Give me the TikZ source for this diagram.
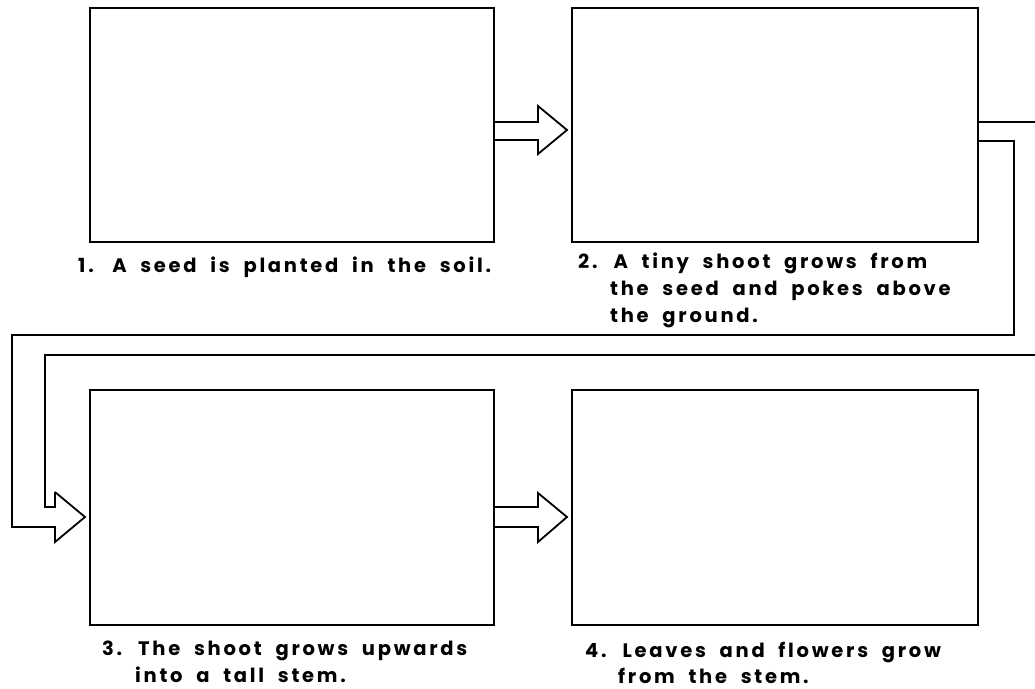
\documentclass[tikz,border=0pt]{standalone}
\usepackage{fontspec}
\setmainfont{Poppins}[LetterSpace=14,WordSpace=2]
\begin{document}
\begin{tikzpicture}[x=1pt,y=-1pt,
  box/.style={draw, line width=2pt, minimum width=#1, minimum height=234pt, inner sep=0pt},
  blockarrow/.style={draw, line width=1.8pt, line join=miter, fill=white},
  lbl/.style={anchor=base west, inner sep=0pt, font=\fontsize{19.5}{27}\selectfont\bfseries}]
\clip (0,0) rectangle (1035,688);
\useasboundingbox (0,0) rectangle (1035,688);
% boxes
\node[box=404pt] (b1) at (292,125) {};
\node[box=406pt] (b2) at (775,125) {};
\node[box=404pt, minimum height=235pt] (b3) at (292,507.5) {};
\node[box=406pt, minimum height=235pt] (b4) at (775,507.5) {};
% arrow 1 -> 2
\draw[blockarrow] (b1.east |- 0,122) -- (538,122) -- (538,106) -- (567,130) -- (538,154) -- (538,140) -- (b1.east |- 0,140);
% arrow 3 -> 4
\draw[blockarrow] (b3.east |- 0,507) -- (538,507) -- (538,493) -- (567,517) -- (538,542) -- (538,527) -- (b3.east |- 0,527);
% long connector 2 -> 3
\draw[line width=1.8pt, line join=miter] (b2.east |- 0,122) -- (1050,122);
\draw[line width=1.8pt, line join=miter] (1050,355) -- (45,355) -- (45,507) -- (55,507) -- (55,492);
\draw[line width=1.8pt, line join=miter] (55,492) -- (85,517) -- (55,542) -- (55,527) -- (12,527) -- (12,335) -- (1014,335) -- (1014,141) -- (b2.east |- 0,141);
% labels
\node[lbl] (t1) at (78,272) {1.\hspace{0.95em}A seed is planted in the soil.};
\node[lbl] (t2a) at (578,268) {2. A tiny shoot grows from};
\node[lbl] (t2b) at (610,295) {the seed and pokes above};
\node[lbl] (t2c) at (610,322) {the ground.};
\node[lbl] (t3a) at (102,655) {3. The shoot grows upwards};
\node[lbl] (t3b) at (135,682) {into a tall stem.};
\node[lbl] (t4a) at (585,657) {4. Leaves and flowers grow};
\node[lbl] (t4b) at (618,683) {from the stem.};
\end{tikzpicture}
\end{document}
